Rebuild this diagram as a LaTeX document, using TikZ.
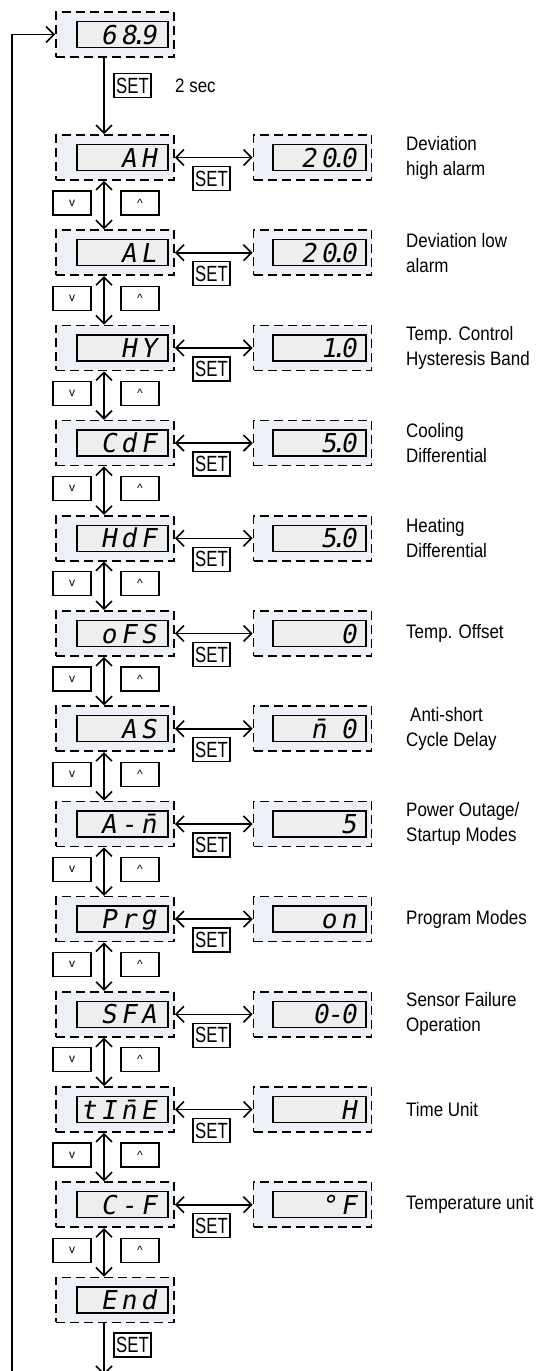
\documentclass[tikz,border=0pt]{standalone}
\usepackage{fontspec}
\setmainfont{Liberation Sans}
\newfontfamily\labfont{Liberation Sans}[FakeStretch=0.87]
\newfontfamily\setfont{Liberation Sans}[FakeStretch=0.76]
\newfontfamily\segfont{DejaVu Sans Mono}[FakeSlant=0.18]
\usetikzlibrary{arrows.meta,calc}
\definecolor{boxbg}{HTML}{EDF0F6}
\definecolor{dispbg}{HTML}{EEEEEE}
\newcommand\sg[1]{\makebox[20pt][c]{#1}}
\newcommand\sdot{\makebox[0pt][c]{.}}
\tikzset{
 outerbox/.style={draw, dash pattern=on 9pt off 5pt, line width=1.7pt, fill=boxbg, minimum width=118pt, minimum height=45pt, inner sep=0pt},
 dispbox/.style={draw, line width=1.5pt, fill=dispbg, minimum width=91pt, minimum height=26pt, inner sep=0pt},
 dispboxr/.style={dispbox, minimum width=93pt},
 segtext/.style={font=\segfont\fontsize{26}{26}\selectfont, inner sep=0pt, anchor=base east},
 btnbox/.style={draw, line width=1.3pt, minimum width=38pt, minimum height=24pt, inner sep=0pt, font=\fontsize{12}{12}\selectfont},
 setbox/.style={draw, line width=1.4pt, minimum width=37pt, minimum height=24pt, inner sep=0pt, font=\setfont\fontsize{22}{22}\selectfont},
 labtext/.style={font=\labfont\fontsize{19.5}{25}\selectfont, align=left, anchor=west, inner sep=0pt},
 conn/.style={line width=1.6pt},
 onetip/.style={conn, -{Straight Barb[length=8pt,width=16pt]}},
 twotip/.style={conn, {Straight Barb[length=8pt,width=16pt]}-{Straight Barb[length=8pt,width=16pt]}},
}
% #1 index, #2 left display text, #3 right display text, #4 label
\newcommand\prow[4]{%
 \node[outerbox] (B#1) at (115,{157.5+95.2*#1}) {};
 \node[dispbox] (D#1) at (122.5,{157.5+95.2*#1}) {};
 \node[segtext] (T#1) at ([xshift=-10pt,yshift=-9.5pt]D#1.east) {#2};
 \node[outerbox] (RB#1) at (312.5,{157.5+95.2*#1}) {};
 \node[dispboxr] (RD#1) at (319.5,{157.5+95.2*#1}) {};
 \node[segtext] (RT#1) at ([xshift=-8pt,yshift=-9.5pt]RD#1.east) {#3};
 \node[setbox] (S#1) at (211.5,{157.5+95.2*#1+21}) {SET};
 \node[labtext] (N#1) at (406,{157.5+95.2*#1}) {#4};
 \draw[twotip] (B#1.east) -- (RB#1.west);
}
\begin{document}
\begin{tikzpicture}[x=1pt,y=-1pt]
\useasboundingbox (0,0) rectangle (536,1371);
\coordinate (col) at (104,0);
% top display
\node[outerbox] (Btop) at (115,34.5) {};
\node[dispbox] (Dtop) at (122.5,34.5) {};
\node[segtext] (Ttop) at ([xshift=-10pt,yshift=-9.5pt]Dtop.east) {\sg{6}\sg{8}\sdot\sg{9}};
\node[setbox] (Stop) at (132.5,85.5) {SET};
\node[labtext] (sec) at (175,85.5) {2 sec};

\prow{0}{\sg{A}\sg{H}}{\sg{2}\sg{0}\sdot\sg{0}}{Deviation\\high alarm}
\prow{1}{\sg{A}\sg{L}}{\sg{2}\sg{0}\sdot\sg{0}}{Deviation low\\alarm}
\prow{2}{\sg{H}\sg{Y}}{\sg{1}\sdot\sg{0}}{Temp. Control\\Hysteresis Band}
\prow{3}{\sg{C}\sg{d}\sg{F}}{\sg{5}\sdot\sg{0}}{Cooling\\Differential}
\prow{4}{\sg{H}\sg{d}\sg{F}}{\sg{5}\sdot\sg{0}}{Heating\\Differential}
\prow{5}{\sg{o}\sg{F}\sg{S}}{\sg{0}}{Temp. Offset}
\prow{6}{\sg{A}\sg{S}}{\sg{n̄}\hspace{10pt}\sg{0}}{\hspace{4pt}Anti-short\\Cycle Delay}
\prow{7}{\sg{A}\sg{-}\sg{n̄}}{\sg{5}}{Power Outage/\\Startup Modes}
\prow{8}{\sg{P}\sg{r}\sg{\raisebox{4pt}{g}}}{\sg{o}\sg{n}}{Program Modes}
\prow{9}{\sg{S}\sg{F}\sg{A}}{\sg{0}\makebox[8pt][c]{-}\sg{0}}{Sensor Failure\\Operation}
\prow{10}{\sg{t}\sg{I}\sg{n̄}\sg{E}}{\sg{H}}{Time Unit}
\prow{11}{\sg{C}\sg{-}\sg{F}}{\sg{°}\sg{F}}{Temperature unit}

% End
\node[outerbox] (B12) at (115,{157.5+95.2*12}) {};
\node[dispbox] (D12) at (122.5,{157.5+95.2*12}) {};
\node[segtext] (T12) at ([xshift=-10pt,yshift=-9.5pt]D12.east) {\sg{E}\sg{n}\sg{d}};
\node[setbox] (Send) at (132.5,1345) {SET};

% buttons between rows
\foreach \i in {0,...,11}{
 \node[btnbox] (V\i) at (72,{157.5+95.2*\i+45.5}) {v};
 \node[btnbox] (U\i) at (140,{157.5+95.2*\i+45.5}) {\textasciicircum};
}
\foreach \i [evaluate=\i as \j using int(\i+1)] in {0,...,11}{
 \draw[twotip] (B\i.south -| col) -- (B\j.north -| col);
}

% top to first
\draw[onetip] (Btop.south -| col) -- (B0.north -| col);
% bottom exit and loop
\coordinate (bexit) at (104,1375);
\coordinate (lb) at (12,1380);
\draw[onetip] (B12.south -| col) -- (bexit);
\draw[onetip] (lb) |- (Btop.west);
\end{tikzpicture}
\end{document}
